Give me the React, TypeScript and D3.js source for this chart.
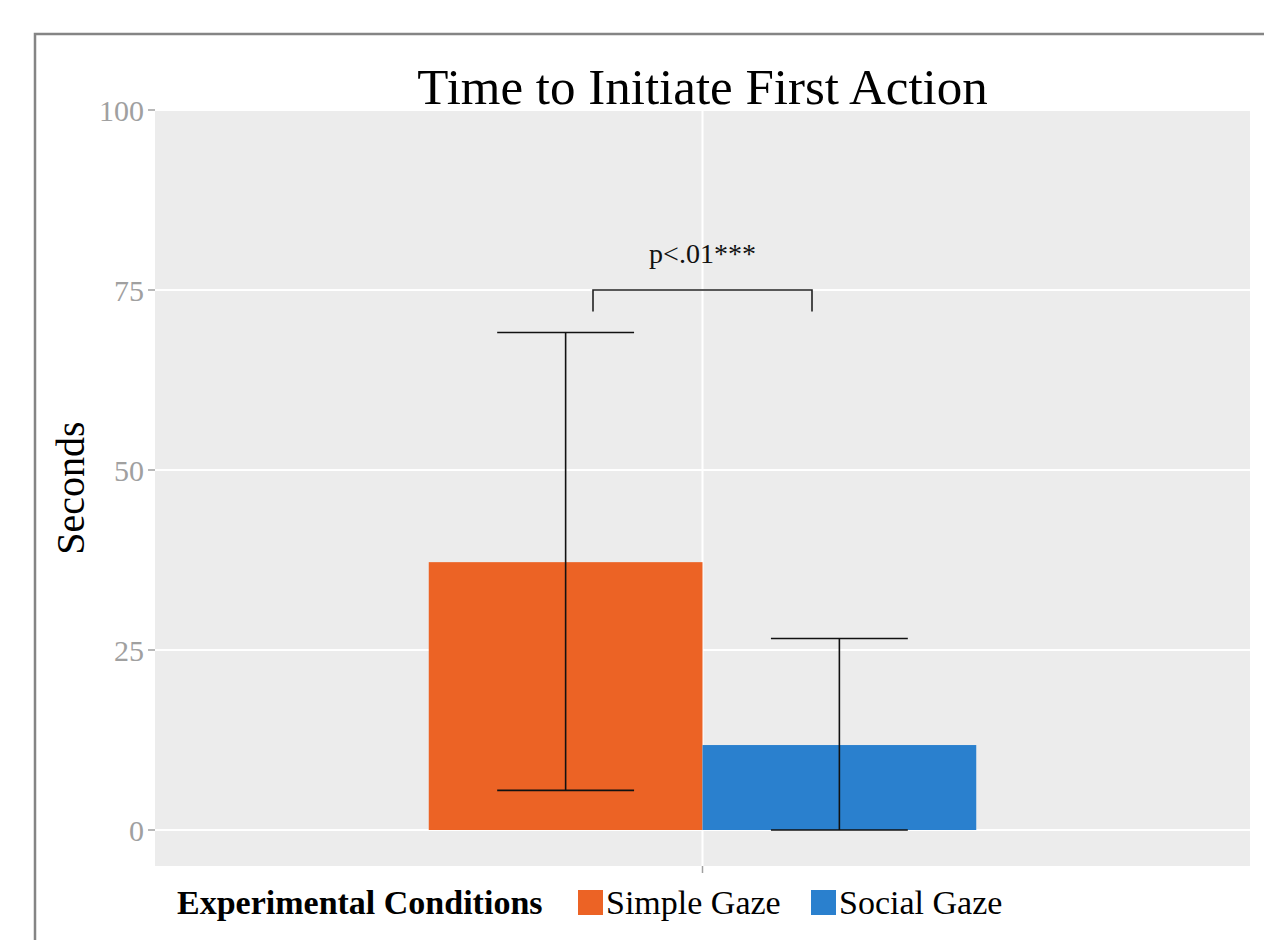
import React from "react";
import * as d3 from "d3";

const title = "Time to Initiate First Action";
const yLabel = "Seconds";
const legendTitle = "Experimental Conditions";
const conditions = ["Simple Gaze", "Social Gaze"];
const means = [37.2, 11.8];
const errLow = [5.5, 0];
const errHigh = [69.1, 26.6];
const colors = ["#EC6325", "#2A80CE"];
const yTicks = [0, 25, 50, 75, 100];
const sigLabel = "p<.01***";
const sigFrom = 0.88;
const sigTo = 1.12;
const sigY = 75;
const sigDrop = 72;
const sigTextY = 78.8;

const W = 1264;
const H = 940;
const panel = { left: 155, right: 1250, top: 110, bottom: 866 };
const FONT = "'Liberation Serif', 'DejaVu Serif', serif";

export default function App() {
  const y = d3.scaleLinear().domain([-5, 100]).range([panel.bottom, panel.top]);
  const x = d3.scaleLinear().domain([0.4, 1.6]).range([panel.left, panel.right]);
  const dodge = d3.scaleBand<string>().domain(conditions).range([0.7, 1.3]);
  const bw = dodge.bandwidth();
  const cx = (c: string) => (dodge(c) as number) + bw / 2;

  const legendKeyX = [578, 811];
  return (
    <svg
      width={W}
      height={H}
      style={{ position: "absolute", left: 0, top: 0, background: "#fff" }}
      fontFamily={FONT}
    >
      <rect x={0} y={0} width={W} height={H} fill="#fff" />
      {/* outer border */}
      <path d={`M35,${H + 5} L35,34 L${W + 5},34`} fill="none" stroke="#858585" strokeWidth={2.5} />
      {/* panel */}
      <rect
        x={panel.left}
        y={panel.top}
        width={panel.right - panel.left}
        height={panel.bottom - panel.top}
        fill="#ECECEC"
      />
      {yTicks.map((t) => (
        <line key={t} x1={panel.left} x2={panel.right} y1={y(t)} y2={y(t)} stroke="#fff" strokeWidth={2} />
      ))}
      <line x1={x(1)} x2={x(1)} y1={panel.top} y2={panel.bottom} stroke="#fff" strokeWidth={2} />
      {/* bars */}
      {conditions.map((c, i) => (
        <rect
          key={c}
          x={x(dodge(c) as number)}
          width={x(bw) - x(0)}
          y={y(means[i])}
          height={y(0) - y(means[i])}
          fill={colors[i]}
        />
      ))}
      {/* error bars */}
      {conditions.map((c, i) => {
        const m = cx(c);
        const half = bw / 4;
        return (
          <g key={c} stroke="#111" strokeWidth={1.6} fill="none">
            <line x1={x(m)} x2={x(m)} y1={y(errLow[i])} y2={y(errHigh[i])} />
            <line x1={x(m - half)} x2={x(m + half)} y1={y(errLow[i])} y2={y(errLow[i])} />
            <line x1={x(m - half)} x2={x(m + half)} y1={y(errHigh[i])} y2={y(errHigh[i])} />
          </g>
        );
      })}
      {/* significance bracket */}
      <path
        d={`M${x(sigFrom)},${y(sigDrop)} L${x(sigFrom)},${y(sigY)} L${x(sigTo)},${y(sigY)} L${x(sigTo)},${y(sigDrop)}`}
        fill="none"
        stroke="#222"
        strokeWidth={1.6}
      />
      <text x={x(1)} y={y(sigTextY)} textAnchor="middle" fontSize={28} fill="#111">
        {sigLabel}
      </text>
      {/* y axis */}
      {yTicks.map((t) => (
        <g key={t}>
          <line x1={panel.left - 7} x2={panel.left} y1={y(t)} y2={y(t)} stroke="#a0a0a0" strokeWidth={1.5} />
          <text
            x={panel.left - 11}
            y={y(t)}
            dy="0.35em"
            textAnchor="end"
            fontSize={30}
            fill="#a0a0a0"
          >
            {t}
          </text>
        </g>
      ))}
      {/* x tick */}
      <line x1={x(1)} x2={x(1)} y1={panel.bottom} y2={panel.bottom + 7} stroke="#a0a0a0" strokeWidth={1.5} />
      {/* title */}
      <text x={x(1)} y={104} textAnchor="middle" fontSize={51} fill="#000">
        {title}
      </text>
      {/* y label */}
      <text
        transform={`translate(84,${(panel.top + panel.bottom) / 2}) rotate(-90)`}
        textAnchor="middle"
        fontSize={40}
        fill="#000"
      >
        {yLabel}
      </text>
      {/* legend */}
      <text x={177} y={914} fontSize={34} fontWeight="bold" fill="#000">
        {legendTitle}
      </text>
      {conditions.map((c, i) => (
        <g key={c}>
          <rect x={legendKeyX[i]} y={890} width={25} height={25} fill={colors[i]} />
          <text x={legendKeyX[i] + 28} y={914} fontSize={34} fill="#000">
            {c}
          </text>
        </g>
      ))}
    </svg>
  );
}
